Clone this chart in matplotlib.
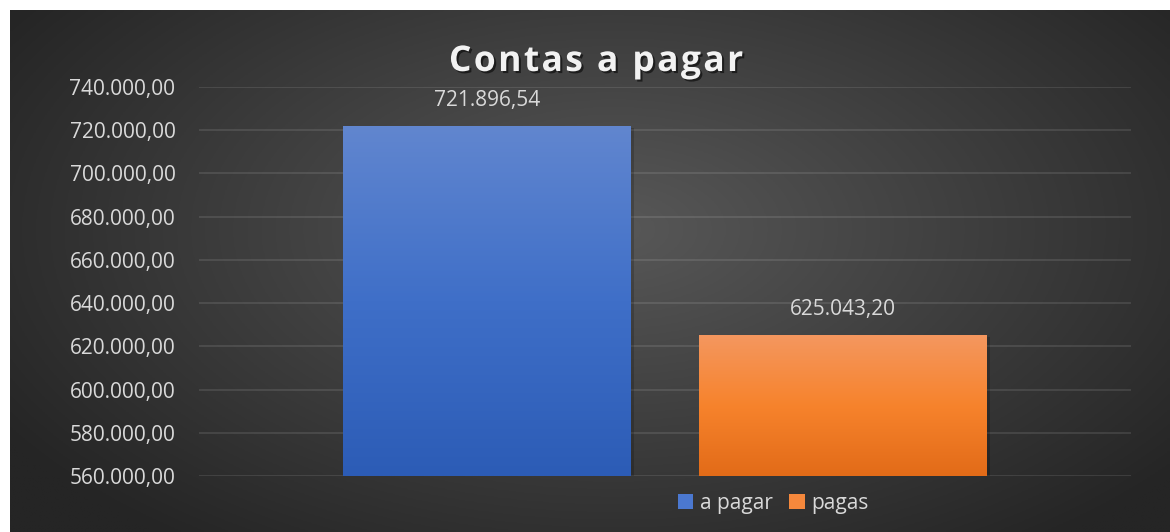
import numpy as np
import matplotlib
matplotlib.use('Agg')
import matplotlib.pyplot as plt
import matplotlib.patheffects as pe
from matplotlib.colors import LinearSegmentedColormap
from matplotlib.patches import Patch

plt.rcParams['font.family'] = ['Open Sans', 'DejaVu Sans']

# data
categories = ['a pagar', 'pagas']
values = [721896.54, 625043.20]
y_ticks = list(range(560000, 740001, 20000))
title = 'Contas a pagar'

bar_top = ['#6186cf', '#f4975f']
bar_mid = ['#3f6fc8', '#f7832c']
bar_bot = ['#2c5cb6', '#e26b18']
legend_colors = ['#4b78d0', '#f5883c']
text_color = '#d9d9d9'


def br_format(v):
    s = f"{v:,.2f}"
    return s.replace(',', 'X').replace('.', ',').replace('X', '.')


W, H = 1170, 532
fig = plt.figure(figsize=(W / 100, H / 100), dpi=100)
fig.patch.set_facecolor('white')

# dark radial background, white strip on top and left
bg = fig.add_axes([10 / W, 0, (W - 10) / W, (H - 10) / H])
bg.set_axis_off()
gx, gy = np.meshgrid(np.linspace(0, 1, 400), np.linspace(0, 1, 200))
r = np.sqrt(((gx - 0.52) / 0.62) ** 2 + ((gy - 0.42) / 0.75) ** 2)
r = np.clip(r, 0, 1)
shade = (0x58 * (1 - r) + 0x25 * r) / 255.0
img = np.dstack([shade, shade, shade])
bg.imshow(img, extent=[0, 1, 0, 1], aspect='auto', origin='upper')
bg.set_xlim(0, 1)
bg.set_ylim(0, 1)

ax = fig.add_axes([199 / W, 1 - 476 / H, (1131 - 199) / W, (476 - 87) / H])
ax.patch.set_alpha(0)
ax.set_xlim(-0.5, 0.5)
ax.set_ylim(y_ticks[0], y_ticks[-1])
ax.set_yticks(y_ticks)
ax.set_yticklabels([br_format(t) for t in y_ticks])
ax.set_xticks([])
for s in ax.spines.values():
    s.set_visible(False)
ax.tick_params(axis='y', length=0, pad=17, labelsize=15, labelcolor=text_color)
ax.grid(axis='y', color='#ffffff', alpha=0.12, linewidth=1.2)
ax.set_axisbelow(True)

width = 0.309
gap = 0.073
offsets = [-(width + gap) / 2, (width + gap) / 2]

for i, (name, val) in enumerate(zip(categories, values)):
    x = offsets[i]
    bars = ax.bar(x, val, width=width, color=bar_mid[i], zorder=2)
    bars[0].set_path_effects([pe.SimplePatchShadow(offset=(2.5, -1), shadow_rgbFace='black', alpha=0.18),
                              pe.Normal()])
    cmap = LinearSegmentedColormap.from_list('g%d' % i, [bar_bot[i], bar_mid[i], bar_top[i]])
    grad = np.linspace(1, 0, 256).reshape(-1, 1)
    im = ax.imshow(grad, cmap=cmap, vmin=0, vmax=1, aspect='auto', zorder=3,
                   extent=[x - width / 2, x + width / 2, y_ticks[0], val])
    im.set_clip_path(bars[0])
    ax.annotate(br_format(val), xy=(x, val), xytext=(0, 11), textcoords='offset points',
                ha='center', va='bottom', fontsize=15, color=text_color, zorder=4)

ax.set_xlim(-0.5, 0.5)
ax.set_ylim(y_ticks[0], y_ticks[-1])

# title with letter spacing, drawn char by char
renderer = fig.canvas.get_renderer()
title_kw = dict(fontsize=25.5, fontweight='bold')


def text_width(s):
    t = fig.text(0, 0, s, **title_kw)
    w = t.get_window_extent(renderer).width
    t.remove()
    return w


spacing = 2.4
total = text_width(title) + spacing * (len(title) - 1)
start = 596 - total / 2
shadow = [pe.withSimplePatchShadow(offset=(1.5, -1.5), shadow_rgbFace='black', alpha=0.55)]
for k, ch in enumerate(title):
    if ch == ' ':
        continue
    px = start + text_width(title[:k + 1]) - text_width(ch) + k * spacing
    fig.text(px / W, 1 - 71 / H, ch, ha='left', va='baseline', color='#f2f2f2',
             path_effects=shadow, **title_kw)

handles = [Patch(facecolor=c, edgecolor='none') for c in legend_colors]
leg = fig.legend(handles, categories, loc='center', bbox_to_anchor=(773 / W, 1 - 503 / H),
                 ncol=2, frameon=False, fontsize=15, handlelength=0.75, handleheight=0.75,
                 handletextpad=0.3, columnspacing=0.8, borderpad=0)
for t in leg.get_texts():
    t.set_color(text_color)

fig.savefig('out.png', dpi=100, facecolor=fig.get_facecolor())
